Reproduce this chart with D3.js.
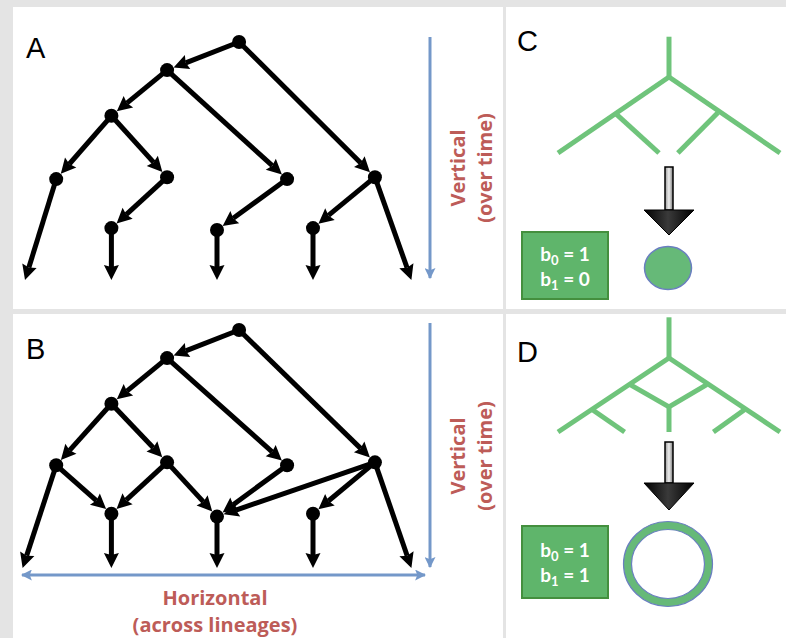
<!DOCTYPE html>
<html>
<head>
<meta charset="utf-8">
<script src="https://cdn.jsdelivr.net/npm/d3@7"></script>
<style>
  html, body { margin: 0; padding: 0; background: #e4e4e4; }
  svg { display: block; }
</style>
</head>
<body>
<svg id="svg" width="786" height="638"></svg>
<script>
// tree A: lineage position (x) and time (y) of every node, "tip" = open end
var nodesA = [
  {id: "r",  lin: 4.46, t: 0},
  {id: "n1", lin: 2.96, t: 0.59},
  {id: "n2", lin: 1.80, t: 1.55},
  {id: "n3", lin: 0.65, t: 2.88},
  {id: "n4", lin: 2.96, t: 2.84},
  {id: "n5", lin: 5.46, t: 2.88},
  {id: "n6", lin: 7.29, t: 2.84},
  {id: "n7", lin: 1.80, t: 3.91},
  {id: "n8", lin: 4.00, t: 3.95},
  {id: "n9", lin: 6.00, t: 3.91},
  {id: "t1", lin: 0.00, t: 5, tip: true},
  {id: "t2", lin: 1.80, t: 5, tip: true},
  {id: "t3", lin: 4.00, t: 5, tip: true},
  {id: "t4", lin: 6.00, t: 5, tip: true},
  {id: "t5", lin: 8.05, t: 5, tip: true}
];
var edgesA = [["r","n1"],["r","n6"],["n1","n2"],["n1","n5"],["n2","n3"],["n2","n4"],
              ["n4","n7"],["n5","n8"],["n6","n9"],["n3","t1"],["n7","t2"],["n8","t3"],
              ["n9","t4"],["n6","t5"]];

// tree B: same lineages, with horizontal transfer
var nodesB = [
  {id: "r",  lin: 4.46, t: 0},
  {id: "n1", lin: 2.96, t: 0.59},
  {id: "n2", lin: 1.80, t: 1.55},
  {id: "n3", lin: 0.65, t: 2.84},
  {id: "n4", lin: 2.96, t: 2.78},
  {id: "n5", lin: 5.46, t: 2.84},
  {id: "n6", lin: 7.29, t: 2.78},
  {id: "n7", lin: 1.80, t: 3.86},
  {id: "n8", lin: 4.00, t: 3.92},
  {id: "n9", lin: 6.00, t: 3.86},
  {id: "t1", lin: -0.05, t: 5, tip: true},
  {id: "t2", lin: 1.80, t: 5, tip: true},
  {id: "t3", lin: 4.00, t: 5, tip: true},
  {id: "t4", lin: 6.00, t: 5, tip: true},
  {id: "t5", lin: 8.05, t: 5, tip: true}
];
var edgesB = [["r","n1"],["r","n6"],["n1","n2"],["n1","n5"],["n2","n3"],["n2","n4"],
              ["n3","n7"],["n4","n7"],["n4","n8"],["n5","n8"],["n6","n8"],["n6","n9"],
              ["n3","t1"],["n7","t2"],["n8","t3"],["n9","t4"],["n6","t5"]];

// green summary trees (C and D)
var greenNodesC = [
  {id: "top", u: 0, v: -0.53}, {id: "j", u: 0, v: 0},
  {id: "L", u: -1, v: 1}, {id: "R", u: 1, v: 1},
  {id: "a", u: -0.49, v: 0.47}, {id: "a2", u: -0.09, v: 1},
  {id: "b", u: 0.44, v: 0.47}, {id: "b2", u: 0.08, v: 1}
];
var greenEdgesC = [["top","j"],["j","L"],["j","R"],["a","a2"],["b","b2"]];

var greenNodesD = [
  {id: "top", u: 0, v: -0.55}, {id: "j", u: 0, v: 0},
  {id: "L", u: -1, v: 1}, {id: "R", u: 1, v: 1},
  {id: "c1", u: -0.35, v: 0.36}, {id: "c2", u: 0.34, v: 0.36},
  {id: "m", u: 0, v: 0.66}, {id: "mb", u: 0, v: 1},
  {id: "s1", u: -0.69, v: 0.70}, {id: "s1e", u: -0.40, v: 1},
  {id: "s2", u: 0.68, v: 0.70}, {id: "s2e", u: 0.40, v: 1}
];
var greenEdgesD = [["top","j"],["j","L"],["j","R"],["c1","m"],["c2","m"],["m","mb"],
                   ["s1","s1e"],["s2","s2e"]];

var panelLabels = ["A", "B", "C", "D"];
var bettiC = [1, 0];
var bettiD = [1, 1];
var verticalLabel = ["Vertical", "(over time)"];
var horizontalLabel = ["Horizontal", "(across lineages)"];

var svg = d3.select("#svg");
var blue = "#7498c9", redText = "#bd5c58", green = "#6fc47b";
var labelFont = "'Open Sans', Lato, sans-serif";

// panels
svg.append("rect").attr("x", 13).attr("y", 7).attr("width", 490).attr("height", 302).attr("fill", "#fff");
svg.append("rect").attr("x", 13).attr("y", 314).attr("width", 490).attr("height", 324).attr("fill", "#fff");
svg.append("rect").attr("x", 506).attr("y", 7).attr("width", 280).attr("height", 302).attr("fill", "#fff");
svg.append("rect").attr("x", 506).attr("y", 314).attr("width", 280).attr("height", 324).attr("fill", "#fff");

var labelPos = [[26, 58], [26, 359], [517, 51], [517, 362]];
svg.selectAll("text.panel").data(panelLabels).enter().append("text")
  .attr("class", "panel")
  .attr("x", function(d, i){ return labelPos[i][0]; })
  .attr("y", function(d, i){ return labelPos[i][1]; })
  .style("font-family", "'Liberation Sans', Arial, sans-serif")
  .style("font-size", "29px")
  .text(function(d){ return d; });

var x = d3.scaleLinear().domain([0, 8]).range([25, 409]);

function drawTree(nodes, edges, y) {
  var byId = {};
  nodes.forEach(function(n){ byId[n.id] = n; });
  var g = svg.append("g");
  var r = 7, headLen = 15, headW = 7.5;
  edges.forEach(function(e) {
    var s = byId[e[0]], t = byId[e[1]];
    var x1 = x(s.lin), y1 = y(s.t), x2 = x(t.lin), y2 = y(t.t);
    var len = Math.hypot(x2 - x1, y2 - y1);
    var ux = (x2 - x1) / len, uy = (y2 - y1) / len;
    var tipX = x2 - ux * (t.tip ? 0 : r), tipY = y2 - uy * (t.tip ? 0 : r);
    g.append("line")
      .attr("x1", x1).attr("y1", y1)
      .attr("x2", tipX - ux * (headLen - 2)).attr("y2", tipY - uy * (headLen - 2))
      .attr("stroke", "#000").attr("stroke-width", 5);
    var ang = Math.atan2(uy, ux) * 180 / Math.PI;
    g.append("path")
      .attr("d", "M0,0 L" + (-headLen) + "," + (-headW) + " L" + (-headLen + 2) + ",0 L" + (-headLen) + "," + headW + " Z")
      .attr("transform", "translate(" + tipX + "," + tipY + ") rotate(" + ang + ")")
      .attr("fill", "#000");
  });
  g.selectAll("circle").data(nodes.filter(function(n){ return !n.tip; }))
    .enter().append("circle")
    .attr("cx", function(d){ return x(d.lin); })
    .attr("cy", function(d){ return y(d.t); })
    .attr("r", r)
    .attr("fill", "#000");
}

drawTree(nodesA, edgesA, d3.scaleLinear().domain([0, 5]).range([42, 280]));
drawTree(nodesB, edgesB, d3.scaleLinear().domain([0, 5]).range([330, 568]));

// blue direction arrows
var defs = svg.append("defs");
defs.append("marker").attr("id", "blueHead")
  .attr("viewBox", "0 -5 10 10").attr("refX", 9).attr("refY", 0)
  .attr("markerUnits", "userSpaceOnUse").attr("markerWidth", 11).attr("markerHeight", 11)
  .attr("orient", "auto-start-reverse")
  .append("path").attr("d", "M0,-5 L10,0 L0,5 L2,0 Z").attr("fill", blue);

function blueArrow(x1, y1, x2, y2, both) {
  var l = svg.append("line")
    .attr("x1", x1).attr("y1", y1).attr("x2", x2).attr("y2", y2)
    .attr("stroke", blue).attr("stroke-width", 3)
    .attr("marker-end", "url(#blueHead)");
  if (both) l.attr("marker-start", "url(#blueHead)");
}
blueArrow(430, 37, 430, 278);
blueArrow(430, 323, 430, 567);
blueArrow(22, 575, 425, 575, true);

function verticalText(cx, cy) {
  var g = svg.append("g").attr("transform", "translate(" + cx + "," + cy + ") rotate(-90)");
  g.selectAll("text").data(verticalLabel).enter().append("text")
    .attr("x", 0).attr("y", function(d, i){ return i * 27; })
    .attr("text-anchor", "middle")
    .style("font-family", labelFont)
    .style("font-weight", "bold")
    .style("font-size", "20px")
    .attr("fill", redText)
    .text(function(d){ return d; });
}
verticalText(465, 168);
verticalText(465, 456);

svg.selectAll("text.hz").data(horizontalLabel).enter().append("text")
  .attr("class", "hz")
  .attr("x", 215).attr("y", function(d, i){ return 605 + i * 27; })
  .attr("text-anchor", "middle")
  .style("font-family", labelFont)
  .style("font-weight", "bold")
  .style("font-size", "20px")
  .attr("fill", redText)
  .text(function(d){ return d; });

// green trees
var u = d3.scaleLinear().domain([-1, 1]).range([558, 780]);
function drawGreen(nodes, edges, v) {
  var byId = {};
  nodes.forEach(function(n){ byId[n.id] = n; });
  svg.append("g").selectAll("line").data(edges).enter().append("line")
    .attr("x1", function(e){ return u(byId[e[0]].u); })
    .attr("y1", function(e){ return v(byId[e[0]].v); })
    .attr("x2", function(e){ return u(byId[e[1]].u); })
    .attr("y2", function(e){ return v(byId[e[1]].v); })
    .attr("stroke", green).attr("stroke-width", 5);
}
drawGreen(greenNodesC, greenEdgesC, d3.scaleLinear().domain([0, 1]).range([77, 153]));
drawGreen(greenNodesD, greenEdgesD, d3.scaleLinear().domain([0, 1]).range([358, 432]));

// block arrows
var grad = defs.append("linearGradient").attr("id", "blk").attr("x1", 0).attr("x2", 1).attr("y1", 0).attr("y2", 0);
grad.append("stop").attr("offset", "0%").attr("stop-color", "#000");
grad.append("stop").attr("offset", "48%").attr("stop-color", "#3a3a3a");
grad.append("stop").attr("offset", "100%").attr("stop-color", "#000");
var shaftGrad = defs.append("linearGradient").attr("id", "shaft").attr("x1", 0).attr("x2", 1);
shaftGrad.append("stop").attr("offset", "0%").attr("stop-color", "#999");
shaftGrad.append("stop").attr("offset", "50%").attr("stop-color", "#eee");
shaftGrad.append("stop").attr("offset", "100%").attr("stop-color", "#777");

function blockArrow(cx, top, neck, tip) {
  svg.append("rect").attr("x", cx - 4).attr("y", top).attr("width", 8).attr("height", neck - top)
    .attr("fill", "url(#shaft)").attr("stroke", "#000").attr("stroke-width", 1.5);
  svg.append("path")
    .attr("d", "M" + (cx - 25) + "," + neck + " L" + (cx + 25) + "," + neck + " L" + cx + "," + tip + " Z")
    .attr("fill", "url(#blk)").attr("stroke", "#000").attr("stroke-width", 1);
}
blockArrow(669, 167, 210, 235);
blockArrow(669, 442, 483, 510);

// Betti number boxes
function bettiBox(vals, top, bottom) {
  svg.append("rect").attr("x", 522).attr("y", top).attr("width", 86).attr("height", bottom - top)
    .attr("fill", "#5fb56b").attr("stroke", "#448f3e").attr("stroke-width", 2);
  var mid = (top + bottom) / 2;
  var t = svg.selectAll(null).data(vals).enter().append("text")
    .attr("x", 565).attr("y", function(d, i){ return mid - 5 + i * 25; })
    .attr("text-anchor", "middle")
    .style("font-family", "Lato, 'Open Sans', sans-serif")
    .style("font-weight", "bold")
    .style("font-size", "19px")
    .attr("fill", "#fff");
  t.append("tspan").text("b");
  t.append("tspan").attr("dy", 4).style("font-size", "13px").text(function(d, i){ return i; });
  t.append("tspan").attr("dy", -4).text(function(d){ return " = " + d; });
}
bettiBox(bettiC, 232, 299);
bettiBox(bettiD, 526, 598);

// C: filled component
svg.append("ellipse").attr("cx", 668).attr("cy", 268).attr("rx", 23.5).attr("ry", 21.5)
  .attr("fill", "#66b978").attr("stroke", "#6a7fc0").attr("stroke-width", 1.5);

// D: ring with a hole
svg.append("ellipse").attr("cx", 668).attr("cy", 564).attr("rx", 40.5).attr("ry", 38.5)
  .attr("fill", "none").attr("stroke", "#66b978").attr("stroke-width", 8);
svg.append("ellipse").attr("cx", 668).attr("cy", 564).attr("rx", 44.5).attr("ry", 42.5)
  .attr("fill", "none").attr("stroke", "#6a7fc0").attr("stroke-width", 1.2);
svg.append("ellipse").attr("cx", 668).attr("cy", 564).attr("rx", 36.5).attr("ry", 34.5)
  .attr("fill", "none").attr("stroke", "#6a7fc0").attr("stroke-width", 1.2);
</script>
</body>
</html>
